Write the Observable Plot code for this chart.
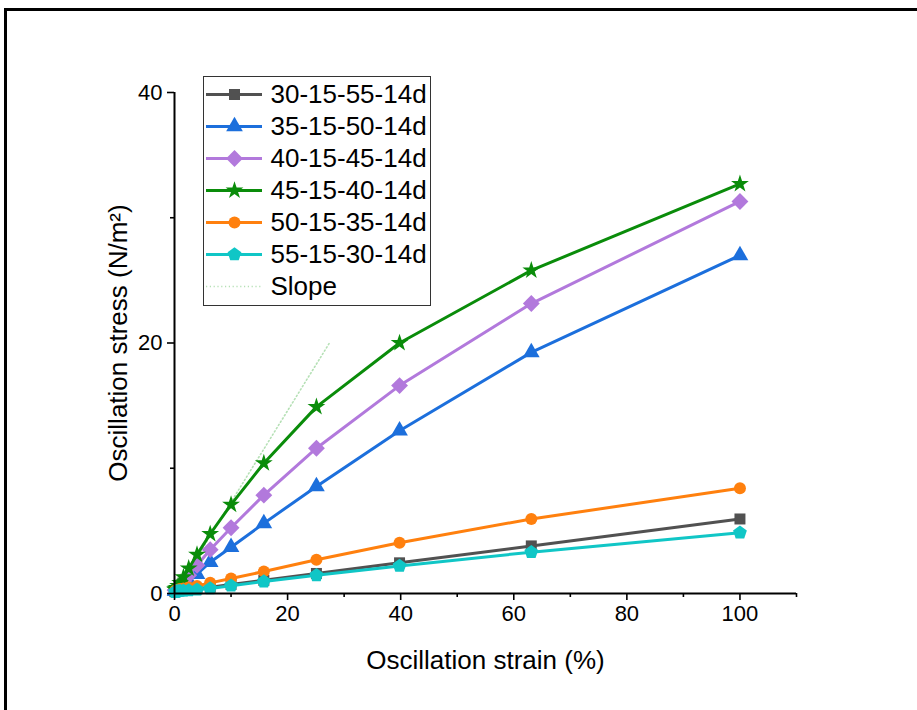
<!DOCTYPE html>
<html>
<head>
<meta charset="utf-8">
<script src="https://cdn.jsdelivr.net/npm/d3@7"></script>
<script src="https://cdn.jsdelivr.net/npm/@observablehq/plot@0.6"></script>
<style>
  html, body { margin: 0; padding: 0; background: #fff; overflow: hidden; }
  #wrap { position: relative; width: 917px; height: 710px; }
  #frame { position: absolute; left: 4px; top: 8px; width: 1000px; height: 1000px; border: 3px solid #000; box-sizing: border-box; pointer-events: none; }
  #legend { position: absolute; left: 203px; top: 76px; width: 228px; height: 230px; border: 1px solid #333; box-sizing: border-box; background: #fff; }
  #legend svg, #chart svg { display: block; }
  #chart { position: absolute; left: 0; top: 0; }
</style>
</head>
<body>
<div id="wrap">
  <div id="chart"></div>
  <div id="legend"></div>
  <div id="frame"></div>
</div>
<script>
// ---- data ----
const strain = [0.1, 0.158, 0.251, 0.398, 0.631, 1, 1.58, 2.51, 3.98, 6.31, 10, 15.8, 25.1, 39.8, 63.1, 100];
const s30_15_55 = [0.15, 0.16, 0.18, 0.2, 0.22, 0.25, 0.28, 0.32, 0.38, 0.5, 0.72, 1.05, 1.6, 2.45, 3.8, 5.95];
const s35_15_50 = [0.2, 0.22, 0.25, 0.3, 0.38, 0.5, 0.7, 1.0, 1.55, 2.5, 3.7, 5.6, 8.55, 13.0, 19.25, 27.0];
const s40_15_45 = [0.25, 0.28, 0.32, 0.38, 0.5, 0.7, 0.95, 1.45, 2.25, 3.5, 5.25, 7.85, 11.6, 16.6, 23.15, 31.3];
const s45_15_40 = [0.3, 0.33, 0.38, 0.45, 0.6, 0.85, 1.3, 2.0, 3.1, 4.75, 7.1, 10.4, 14.9, 20.0, 25.8, 32.7];
const s50_15_35 = [0.2, 0.21, 0.23, 0.26, 0.3, 0.35, 0.4, 0.48, 0.6, 0.85, 1.2, 1.75, 2.7, 4.05, 5.95, 8.4];
const s55_15_30 = [0.12, 0.13, 0.14, 0.16, 0.18, 0.2, 0.22, 0.25, 0.3, 0.4, 0.62, 0.95, 1.45, 2.2, 3.3, 4.85];
const slopeX = [0, 27.4];
const slopeY = [0, 20];

const seriesNames = ["30-15-55-14d", "35-15-50-14d", "40-15-45-14d", "45-15-40-14d", "50-15-35-14d", "55-15-30-14d"];
const seriesValues = [s30_15_55, s35_15_50, s40_15_45, s45_15_40, s50_15_35, s55_15_30];
const seriesColors = ["#515151", "#1c6fdc", "#b279dc", "#0a8c0a", "#ff800e", "#10c6c6"];
const xMajorTicks = [0, 20, 40, 60, 80, 100];
const xMinorTicks = [10, 30, 50, 70, 90, 110];
const yMajorTicks = [0, 20, 40];
const yMinorTicks = [10, 30];
const xLabel = "Oscillation strain (%)";
const yLabel = "Oscillation stress (N/m²)";
const slopeName = "Slope";
const slopeColor = "#b5e0b5";

// custom pentagon symbol
const pentagon = {
  draw(ctx, size) {
    const r = Math.sqrt(size / (2.5 * Math.sin(2 * Math.PI / 5)));
    for (let i = 0; i < 5; i++) {
      const a = -Math.PI / 2 + i * 2 * Math.PI / 5;
      const px = r * Math.cos(a), py = r * Math.sin(a);
      if (i === 0) ctx.moveTo(px, py); else ctx.lineTo(px, py);
    }
    ctx.closePath();
  }
};
const seriesSymbols = ["square", "triangle", "diamond2", "star", "circle", pentagon];
const seriesR = [6.2, 6.2, 7.6, 5.6, 6, 6.3];

const rows = [];
seriesNames.forEach((name, i) => {
  strain.forEach((x, j) => rows.push({series: name, i, x, y: seriesValues[i][j]}));
});
const slopeRows = slopeX.map((x, j) => ({x, y: slopeY[j]}));

const font = "'Liberation Sans', Arial, sans-serif";

const marks = [
  Plot.line(slopeRows, {x: "x", y: "y", stroke: slopeColor, strokeWidth: 1.6, strokeDasharray: "1.2,2.6"}),
];
seriesNames.forEach((name, i) => {
  const d = rows.filter(r => r.i === i);
  marks.push(Plot.line(d, {x: "x", y: "y", stroke: seriesColors[i], strokeWidth: 3}));
  marks.push(Plot.dot(d, {x: "x", y: "y", fill: seriesColors[i], stroke: "none", symbol: seriesSymbols[i], r: seriesR[i]}));
});
marks.push(
  Plot.ruleY([0], {stroke: "#000", strokeWidth: 2}),
  Plot.ruleX([0], {stroke: "#000", strokeWidth: 2}),
  Plot.axisX({ticks: xMinorTicks, tickSize: 4, tickFormat: () => "", strokeWidth: 1.6, label: null}),
  Plot.axisX({ticks: xMajorTicks, tickSize: 7, tickPadding: 5, strokeWidth: 1.6, fontSize: 22, label: null, fill: "#000", tickFormat: d => String(d)}),
  Plot.axisY({ticks: yMinorTicks, tickSize: 4, tickFormat: () => "", strokeWidth: 1.6, label: null}),
  Plot.axisY({ticks: yMajorTicks, tickSize: 7, tickPadding: 5, strokeWidth: 1.6, fontSize: 22, label: null, fill: "#000", tickFormat: d => String(d)}),
  Plot.text([xLabel], {text: d => d, frameAnchor: "bottom", dy: 67, fontSize: 26, fill: "#000", lineAnchor: "middle", textAnchor: "middle"}),
  Plot.text([yLabel], {text: d => d, frameAnchor: "left", dx: -56, rotate: -90, fontSize: 26, fill: "#000", lineAnchor: "middle", textAnchor: "middle"})
);

const chart = Plot.plot({
  width: 917, height: 710,
  marginLeft: 174, marginRight: 121, marginTop: 92, marginBottom: 117,
  style: {fontFamily: font, background: "transparent", overflow: "visible"},
  x: {domain: [0, 110]},
  y: {domain: [0, 40]},
  marks
});
document.getElementById("chart").appendChild(chart);

// ---- legend ----
const legendNames = [...seriesNames, slopeName];
const legendRows = legendNames.map((name, i) => ({name, i}));
const lmarks = [];
legendRows.forEach(r => {
  if (r.i < seriesNames.length) {
    lmarks.push(Plot.ruleY([r], {y: "name", x1: 0, x2: 1, stroke: seriesColors[r.i], strokeWidth: 3}));
    lmarks.push(Plot.dot([r], {y: "name", x: 0.5, fill: seriesColors[r.i], stroke: "none", symbol: seriesSymbols[r.i], r: seriesR[r.i]}));
  } else {
    lmarks.push(Plot.ruleY([r], {y: "name", x1: 0, x2: 1, stroke: slopeColor, strokeWidth: 1.6, strokeDasharray: "1.2,2.6"}));
  }
});
lmarks.push(Plot.text(legendRows, {y: "name", x: 1, dx: 8, text: "name", textAnchor: "start", fontSize: 26, fill: "#000"}));

const legend = Plot.plot({
  width: 226, height: 228,
  marginLeft: 2, marginRight: 168, marginTop: 17, marginBottom: 19,
  style: {fontFamily: font, background: "transparent", overflow: "visible"},
  x: {domain: [0, 1], axis: null},
  y: {type: "point", domain: legendNames, padding: 0, axis: null},
  marks: lmarks
});
document.getElementById("legend").appendChild(legend);
</script>
</body>
</html>
